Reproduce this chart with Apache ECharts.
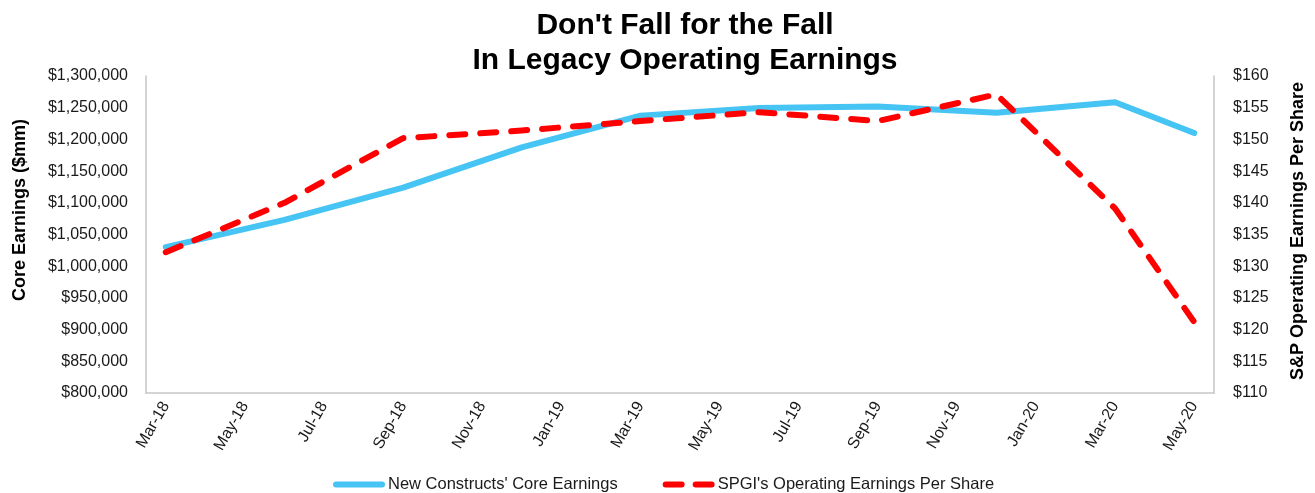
<!DOCTYPE html>
<html>
<head>
<meta charset="utf-8">
<script src="https://cdn.jsdelivr.net/npm/echarts@6/dist/echarts.min.js"></script>
<style>
    html, body {margin: 0; padding: 0; background: #fff;}
    #chart {width: 1315px; height: 493px;}
</style>
</head>
<body>
<div id="chart"></div>
<script>
const months = [
    'Mar-18', 'Apr-18', 'May-18', 'Jun-18', 'Jul-18', 'Aug-18', 'Sep-18', 'Oct-18', 'Nov-18', 'Dec-18',
    'Jan-19', 'Feb-19', 'Mar-19', 'Apr-19', 'May-19', 'Jun-19', 'Jul-19', 'Aug-19', 'Sep-19', 'Oct-19',
    'Nov-19', 'Dec-19', 'Jan-20', 'Feb-20', 'Mar-20', 'Apr-20', 'May-20',
];
// reporting dates that carry a value
const pointMonths = ['Mar-18', 'Jun-18', 'Sep-18', 'Dec-18', 'Mar-19', 'Jun-19', 'Sep-19', 'Dec-19', 'Mar-20', 'May-20'];
const coreEarnings = [1030000, 1073000, 1124000, 1187500, 1237500, 1249500, 1252000, 1242000, 1258500, 1210000];
const spgiEps = [132.2, 140.0, 150.2, 151.4, 152.9, 154.3, 152.9, 157.1, 139.1, 121.2];

const font = '"Liberation Sans", Arial, sans-serif';
const blue = '#46C4F3';
const red = '#FF0000';
const axisGray = '#c6c6c6';
const labelColor = '#1a1a1a';

const money = v => '$' + v.toLocaleString('en-US');

// legend swatches: solid bar and two round-capped dashes (both 52 wide)
const solidIcon = 'path://M3,0 H49 A3,3 0 0 1 49,6 H3 A3,3 0 0 1 3,0 Z';
const dashIcon = 'path://M3,0 H19 A3,3 0 0 1 19,6 H3 A3,3 0 0 1 3,0 Z M33,0 H49 A3,3 0 0 1 49,6 H33 A3,3 0 0 1 33,0 Z';

const chart = echarts.init(document.getElementById('chart'), null, {renderer: 'canvas'});
chart.setOption({
    animation: false,
    textStyle: {fontFamily: font},
    title: {
        text: "Don't Fall for the Fall\nIn Legacy Operating Earnings",
        left: 680,
        textAlign: 'center',
        top: 3,
        textStyle: {fontSize: 30, fontWeight: 'bold', color: '#000', lineHeight: 35, fontFamily: font},
    },
    grid: {left: 146, right: 101, top: 76, bottom: 100},
    legend: {
        top: 471,
        left: 328,
        itemWidth: 52,
        itemHeight: 7,
        itemGap: 45,
        textStyle: {fontSize: 16.5, color: labelColor, fontFamily: font, padding: [0, 0, 0, -2]},
        data: [
            {name: "New Constructs' Core Earnings", icon: solidIcon, itemStyle: {color: blue}},
            {name: "SPGI's Operating Earnings Per Share", icon: dashIcon, itemStyle: {color: red}},
        ],
    },
    xAxis: {
        type: 'category',
        data: months,
        boundaryGap: true,
        axisLine: {lineStyle: {color: axisGray, width: 1.5}},
        axisTick: {show: false},
        axisLabel: {interval: 1, rotate: 60, margin: 10, fontSize: 16, color: labelColor, fontFamily: font},
        splitLine: {show: false},
    },
    yAxis: [{
        type: 'value',
        min: 800000,
        max: 1300000,
        interval: 50000,
        axisLine: {show: true, lineStyle: {color: axisGray, width: 1.5}},
        axisTick: {show: false},
        axisLabel: {formatter: money, margin: 18, fontSize: 16, color: labelColor, fontFamily: font},
        splitLine: {show: false},
    }, {
        type: 'value',
        min: 110,
        max: 160,
        interval: 5,
        axisLine: {show: true, lineStyle: {color: axisGray, width: 1.5}},
        axisTick: {show: false},
        axisLabel: {formatter: v => '$' + v, margin: 19, fontSize: 16, color: labelColor, fontFamily: font},
        splitLine: {show: false},
    }],
    graphic: [{
        type: 'text',
        x: 20,
        y: 210,
        rotation: Math.PI / 2,
        style: {
            text: 'Core Earnings ($mm)',
            font: `bold 18px ${font}`,
            fill: '#000',
            align: 'center',
            verticalAlign: 'middle',
        },
    }, {
        type: 'text',
        x: 1298,
        y: 231,
        rotation: Math.PI / 2,
        style: {
            text: 'S&P Operating Earnings Per Share',
            font: `bold 18px ${font}`,
            fill: '#000',
            align: 'center',
            verticalAlign: 'middle',
        },
    }],
    series: [{
        name: "New Constructs' Core Earnings",
        type: 'line',
        yAxisIndex: 0,
        symbol: 'none',
        connectNulls: true,
        data: pointMonths.map((m, i) => [m, coreEarnings[i]]),
        itemStyle: {color: blue},
        lineStyle: {color: blue, width: 6, join: 'round', cap: 'round'},
        z: 2,
    }, {
        name: "SPGI's Operating Earnings Per Share",
        type: 'line',
        yAxisIndex: 1,
        symbol: 'none',
        connectNulls: true,
        data: pointMonths.map((m, i) => [m, spgiEps[i]]),
        itemStyle: {color: red},
        lineStyle: {color: red, width: 6, type: [16, 15], join: 'round', cap: 'round'},
        z: 3,
    }],
});
</script>
</body>
</html>
